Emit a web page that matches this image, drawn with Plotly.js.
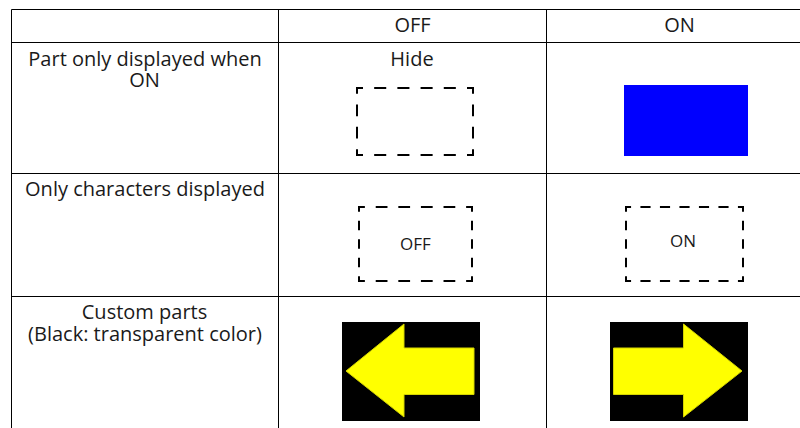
<!DOCTYPE html>
<html><head><meta charset="utf-8"><script src="https://cdn.plot.ly/plotly-3.0.1.min.js"></script>
<style>html,body{margin:0;padding:0;background:#fff}</style></head><body><div id="c" style="width:800px;height:428px"></div>
<script>
const gridColumnEdges=[11.5,278.5,546.5];
const gridRowEdges=[9.5,42.5,173.5,296.5];
const gridRight=800, gridBottom=428;
const labels=["OFF","ON","Part only displayed when","ON","Hide","Only characters displayed","Custom parts","(Black: transparent color)","OFF","ON"];
const labelX=[412.5,679.5,145,144.5,412,145,144.5,145,415.5,683];
const labelY=[26.5,26.5,60.5,82,60.5,191,313.5,335.5,245.5,243];
const labelSize=[20,20,20,20,20,20,20,20,17,17];
// left, right, top, bottom, dashes per width, dashes per height
const dashedBoxes=[[357,473,88,155,5,3],[359,472,207,281,5,4],[626,743,207,281,6,4]];
const blueX=[624,748,748,624,624], blueY=[85,85,156,156,85];
const blackLX=[342,480,480,342,342], blackY=[322,322,421,421,322];
const blackRX=[610,748,748,610,610];
const arrowLX=[346,404,404,474,474,404,404,346], arrowLY=[371,324,348,348,394.5,394.5,417,371];
const arrowRX=[742,683.5,683.5,613.5,613.5,683.5,683.5,742], arrowRY=[371,324,348,348,394.5,394.5,417,371];
const traces=[];
const gx=[],gy=[];
gridRowEdges.forEach(y=>{gx.push(gridColumnEdges[0],gridRight,null);gy.push(y,y,null)});
gridColumnEdges.forEach(x=>{gx.push(x,x,null);gy.push(gridRowEdges[0],gridBottom,null)});
traces.push({x:gx,y:gy,mode:'lines',line:{color:'#000',width:1}});
const fillT=(x,y,c,lc,lw)=>({x,y,mode:'lines',fill:'toself',fillcolor:c,line:{width:lw||0,color:lc||c}});
traces.push(fillT(blueX,blueY,'#0000ff'),fillT(blackLX,blackY,'#000'),fillT(blackRX,blackY,'#000'),
 fillT(arrowLX,arrowLY,'#ffff00','#d4d400',1),fillT(arrowRX,arrowRY,'#ffff00','#d4d400',1));
// each side has a dash centred on every division point, half dashes at the corners
function side(a,b,n){const p=(b-a)/n,h=p*0.26,out=[];
  for(let i=0;i<=n;i++){const c=a+i*p;out.push([i==0?a-1:c-h,i==n?b+1:c+h]);}
  return out;}
dashedBoxes.forEach(b=>{const dx=[],dy=[];
  [b[2],b[3]].forEach(y=>side(b[0],b[1],b[4]).forEach(s=>{dx.push(s[0],s[1],null);dy.push(y,y,null)}));
  [b[0],b[1]].forEach(x=>side(b[2],b[3],b[5]).forEach(s=>{dx.push(x,x,null);dy.push(s[0],s[1],null)}));
  traces.push({x:dx,y:dy,mode:'lines',line:{color:'#000',width:2}});});
const fam='"Open Sans","Noto Sans",sans-serif';
traces.push({x:labelX,y:labelY,mode:'text',text:labels,textposition:'middle center',textfont:{family:fam,size:labelSize,color:'#1a1a1a'}});
Plotly.newPlot('c',traces,{width:800,height:428,margin:{l:0,r:0,t:0,b:0},showlegend:false,paper_bgcolor:'#fff',plot_bgcolor:'#fff',
 xaxis:{range:[0,800],visible:false,fixedrange:true},yaxis:{range:[428,0],visible:false,fixedrange:true}},{staticPlot:true});
</script></body></html>
